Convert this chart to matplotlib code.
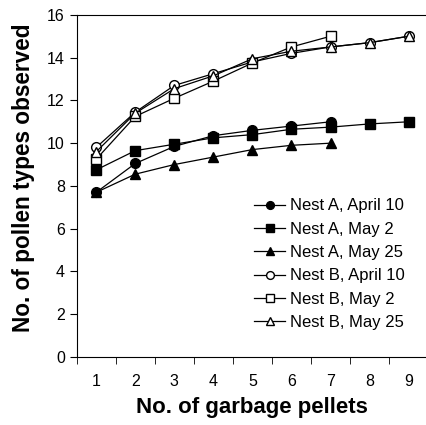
import matplotlib.pyplot as plt
import numpy as np

plt.rcParams['font.family'] = ['Liberation Sans', 'DejaVu Sans']

pellets = [1, 2, 3, 4, 5, 6, 7, 8, 9]

a_apr10 = [7.7, 9.05, 9.85, 10.35, 10.6, 10.8, 11.0]
a_may2 = [8.75, 9.65, 9.95, 10.25, 10.4, 10.65, 10.75, 10.9, 11.0]
a_may25 = [7.7, 8.55, 9.0, 9.35, 9.7, 9.9, 10.0]
b_apr10 = [9.8, 11.45, 12.7, 13.25, 13.8, 14.2, 14.5, 14.7, 15.0]
b_may2 = [9.25, 11.25, 12.1, 12.9, 13.75, 14.5, 15.0]
b_may25 = [9.6, 11.4, 12.55, 13.15, 13.95, 14.3, 14.5, 14.7, 15.0]

series = [
    (a_apr10, 'o', 'black', 'Nest A, April 10'),
    (a_may2, 's', 'black', 'Nest A, May 2'),
    (a_may25, '^', 'black', 'Nest A, May 25'),
    (b_apr10, 'o', 'white', 'Nest B, April 10'),
    (b_may2, 's', 'white', 'Nest B, May 2'),
    (b_may25, '^', 'white', 'Nest B, May 25'),
]

fig = plt.figure(figsize=(4.26, 4.25), dpi=100)
ax = fig.add_axes([0.18, 0.16, 0.825, 0.805])

for vals, m, fc, lab in series:
    ax.plot(pellets[:len(vals)], vals, marker=m, markerfacecolor=fc,
            markeredgecolor='black', color='black', linewidth=0.9,
            markersize=7, markeredgewidth=1.0, label=lab)

ax.set_xlim(0.5, 9.5)
ax.set_ylim(0, 16)
ax.set_yticks(np.arange(0, 17, 2))
ax.set_xticks(pellets)
ax.set_xticks(np.arange(0.5, 10, 1), minor=True)
ax.tick_params(axis='x', which='major', length=0, pad=12, labelsize=11.5)
ax.tick_params(axis='x', which='minor', length=5, direction='out')
ax.tick_params(axis='y', length=5, direction='out', labelsize=11.5)
ax.spines['right'].set_visible(False)

ax.set_xlabel('No. of garbage pellets', fontsize=16, fontweight='bold', labelpad=6)
ax.set_ylabel('No. of pollen types observed', fontsize=16.3, fontweight='bold')
ax.yaxis.set_label_coords(-0.12, 0.525)

ax.legend(loc='lower right', bbox_to_anchor=(0.975, 0.035), frameon=False,
          fontsize=12, handlelength=1.9, handletextpad=0.25, labelspacing=0.5,
          markerscale=0.8)

plt.savefig('out.png', dpi=100)
